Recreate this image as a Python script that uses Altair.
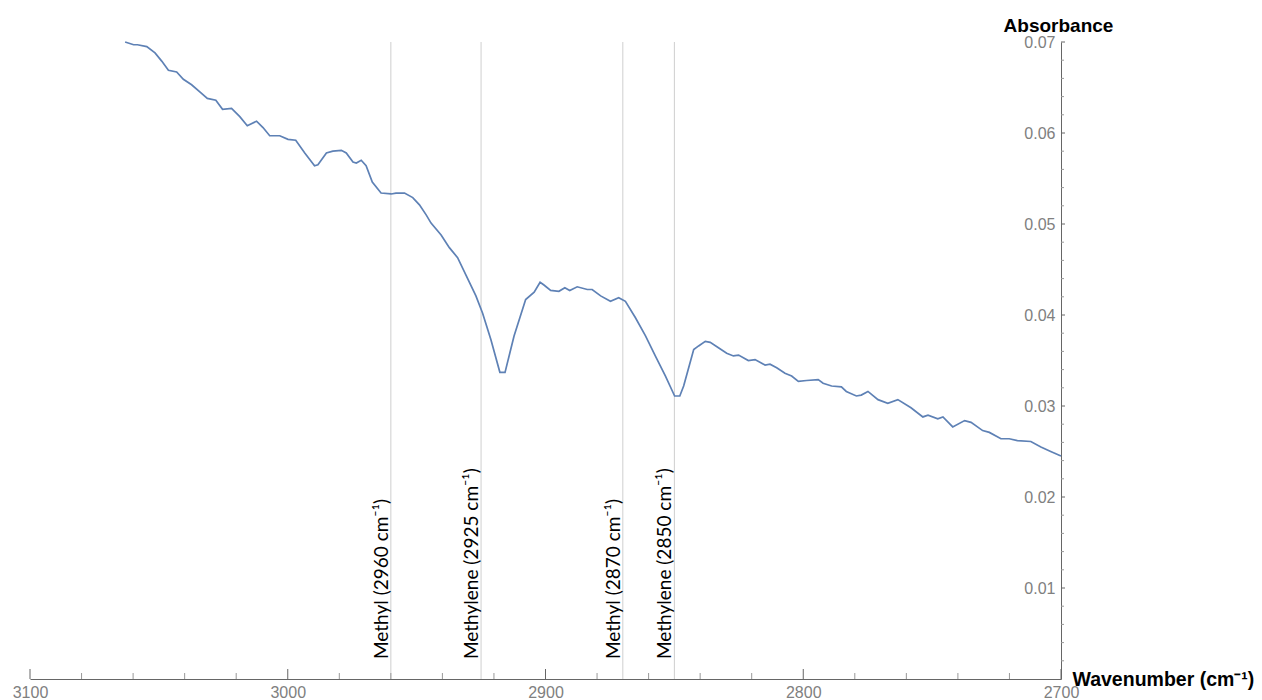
import altair as alt
import pandas as pd

# IR absorbance spectrum in the C-H stretching region
wavenumber = [
    3063.1, 3059.8, 3058.3, 3054.7, 3051.5, 3048.9, 3046.3, 3043.1, 3040.5, 3037.3,
    3034.0, 3031.2, 3027.9, 3025.3, 3021.8, 3018.6, 3015.7, 3012.1, 3009.6, 3007.0,
    3003.1, 2999.9, 2996.9, 2993.4, 2989.6, 2988.3, 2985.0, 2982.5, 2979.2, 2977.3,
    2974.7, 2973.4, 2971.5, 2969.6, 2967.2, 2963.8, 2959.9, 2958.0, 2954.7, 2951.5,
    2948.9, 2946.3, 2944.4, 2940.5, 2937.3, 2934.1, 2930.9, 2927.0, 2924.4, 2921.2,
    2917.7, 2915.7, 2912.2, 2907.7, 2904.4, 2902.1, 2900.6, 2898.0, 2894.8, 2892.5,
    2890.6, 2887.7, 2883.8, 2881.9, 2878.6, 2874.8, 2871.6, 2869.0, 2865.1, 2861.2,
    2857.4, 2853.5, 2849.9, 2847.9, 2846.4, 2842.5, 2840.6, 2838.0, 2836.1, 2832.9,
    2829.7, 2827.1, 2825.1, 2821.3, 2818.7, 2814.8, 2812.9, 2810.3, 2807.1, 2804.5,
    2801.9, 2798.7, 2794.2, 2792.3, 2789.0, 2785.2, 2783.3, 2779.4, 2777.5, 2774.9,
    2771.0, 2767.2, 2763.3, 2758.2, 2753.6, 2751.6, 2747.8, 2745.8, 2742.0, 2737.4,
    2734.9, 2730.4, 2727.8, 2723.3, 2720.1, 2716.9, 2711.7, 2707.8, 2704.0, 2700.0,
]
absorbance = [
    0.0700, 0.0697, 0.0697, 0.0695, 0.0688, 0.0679, 0.0669, 0.0667, 0.0659, 0.0653,
    0.0645, 0.0638, 0.0636, 0.0626, 0.0627, 0.0618, 0.0608, 0.0613, 0.0606, 0.0597,
    0.0597, 0.0593, 0.0592, 0.0578, 0.0564, 0.0565, 0.0578, 0.0580, 0.0581, 0.0578,
    0.0568, 0.0567, 0.0570, 0.0564, 0.0546, 0.0534, 0.0533, 0.0534, 0.0534, 0.0529,
    0.0521, 0.0510, 0.0501, 0.0488, 0.0474, 0.0463, 0.0444, 0.0421, 0.0402, 0.0373,
    0.0337, 0.0337, 0.0377, 0.0417, 0.0425, 0.0436, 0.0433, 0.0427, 0.0426, 0.0430,
    0.0427, 0.0431, 0.0428, 0.0428, 0.0421, 0.0415, 0.0419, 0.0415, 0.0397, 0.0377,
    0.0355, 0.0333, 0.0311, 0.0311, 0.0322, 0.0362, 0.0366, 0.0371, 0.0370, 0.0364,
    0.0358, 0.0355, 0.0356, 0.0350, 0.0351, 0.0345, 0.0346, 0.0342, 0.0336, 0.0333,
    0.0327, 0.0328, 0.0329, 0.0325, 0.0322, 0.0321, 0.0316, 0.0311, 0.0312, 0.0316,
    0.0307, 0.0303, 0.0307, 0.0298, 0.0288, 0.0290, 0.0286, 0.0288, 0.0277, 0.0284,
    0.0282, 0.0273, 0.0271, 0.0264, 0.0264, 0.0262, 0.0261, 0.0255, 0.0250, 0.0245,
]

# Characteristic C-H stretching bands
band_positions = [2960, 2925, 2870, 2850]
band_labels = [
    "Methyl (2960 cm⁻¹)",
    "Methylene (2925 cm⁻¹)",
    "Methyl (2870 cm⁻¹)",
    "Methylene (2850 cm⁻¹)",
]

# Axis ticks
x_major = [3100, 3000, 2900, 2800, 2700]
x_minor = [v for v in range(2720, 3100, 20) if v % 100 != 0]
y_major = [0.01, 0.02, 0.03, 0.04, 0.05, 0.06, 0.07]
y_minor = [round(i * 0.002, 3) for i in range(1, 35) if i % 5 != 0]

PLOT_W, PLOT_H = 1031, 637
LABEL_GREY = "#808080"
AXIS_GREY = "#666666"
LINE_BLUE = "#5E81B5"

spectrum = pd.DataFrame({"wn": wavenumber, "ab": absorbance})
bands = pd.DataFrame({"wn": band_positions, "label": band_labels})
xmaj = pd.DataFrame({"wn": x_major})
xmin = pd.DataFrame({"wn": x_minor})
ymaj = pd.DataFrame({"ab": y_major})
ymin = pd.DataFrame({"ab": y_minor})

x_scale = alt.Scale(domain=[2700, 3100], reverse=True, nice=False, zero=False)
y_scale = alt.Scale(domain=[0, 0.07], nice=False, zero=False)

x_axis = alt.Axis(
    values=x_major, format="d", grid=False, ticks=False, tickSize=0,
    labelFont="Liberation Sans", labelFontSize=16, labelColor=LABEL_GREY,
    labelPadding=5, labelFlush=False, domainColor=AXIS_GREY, domainWidth=1,
    title="Wavenumber (cm⁻¹)", titleFont="Liberation Sans", titleFontSize=19.5,
    titleFontWeight="bold", titleColor="black", titleAngle=0,
    titleAlign="left", titleBaseline="alphabetic", titleX=1042, titleY=6,
)
y_axis = alt.Axis(
    orient="left", offset=-PLOT_W, values=y_major, format=".2f", grid=False,
    ticks=False, tickSize=0, labelFont="Liberation Sans", labelFontSize=16,
    labelColor=LABEL_GREY, labelPadding=6, labelFlush=False,
    domainColor=AXIS_GREY, domainWidth=1,
    title="Absorbance", titleFont="Liberation Sans", titleFontSize=19,
    titleFontWeight="bold", titleColor="black", titleAngle=0,
    titleAlign="center", titleBaseline="alphabetic", titleX=-3, titleY=-11,
)

X = lambda: alt.X("wn:Q", scale=x_scale, axis=x_axis)
Y = lambda: alt.Y("ab:Q", scale=y_scale, axis=y_axis)

band_rules = alt.Chart(bands).mark_rule(color="#cfcfcf", strokeWidth=1).encode(x=X())

line = alt.Chart(spectrum).mark_line(color=LINE_BLUE, strokeWidth=1.7).encode(
    x=X(), y=Y(), order="wn:Q"
)

band_text = alt.Chart(bands).mark_text(
    angle=270, align="left", baseline="alphabetic", dy=-3,
    font="Lato", fontSize=19, color="black",
).encode(x=X(), y=alt.value(PLOT_H - 20), text="label:N")

x_major_ticks = alt.Chart(xmaj).mark_rule(color=AXIS_GREY, strokeWidth=1).encode(
    x=X(), y=alt.value(PLOT_H), y2=alt.value(PLOT_H - 10)
)
x_minor_ticks = alt.Chart(xmin).mark_rule(color="#999999", strokeWidth=1).encode(
    x=X(), y=alt.value(PLOT_H), y2=alt.value(PLOT_H - 6)
)
y_major_ticks = alt.Chart(ymaj).mark_rule(color=AXIS_GREY, strokeWidth=1).encode(
    y=Y(), x=alt.value(PLOT_W), x2=alt.value(PLOT_W + 4)
)
y_minor_ticks = alt.Chart(ymin).mark_rule(color="#999999", strokeWidth=1).encode(
    y=Y(), x=alt.value(PLOT_W), x2=alt.value(PLOT_W + 3)
)

chart = (
    alt.layer(
        band_rules, line, band_text,
        x_major_ticks, x_minor_ticks, y_major_ticks, y_minor_ticks,
    )
    .properties(
        width=PLOT_W, height=PLOT_H,
        autosize=alt.AutoSizeParams(type="none"),
        padding={"left": 30, "top": 42, "right": 1262 - 30 - PLOT_W, "bottom": 700 - 42 - PLOT_H},
        background="white",
    )
    .configure_view(stroke=None)
)

chart.save("out.html", embed_options={"renderer": "svg", "actions": False})
